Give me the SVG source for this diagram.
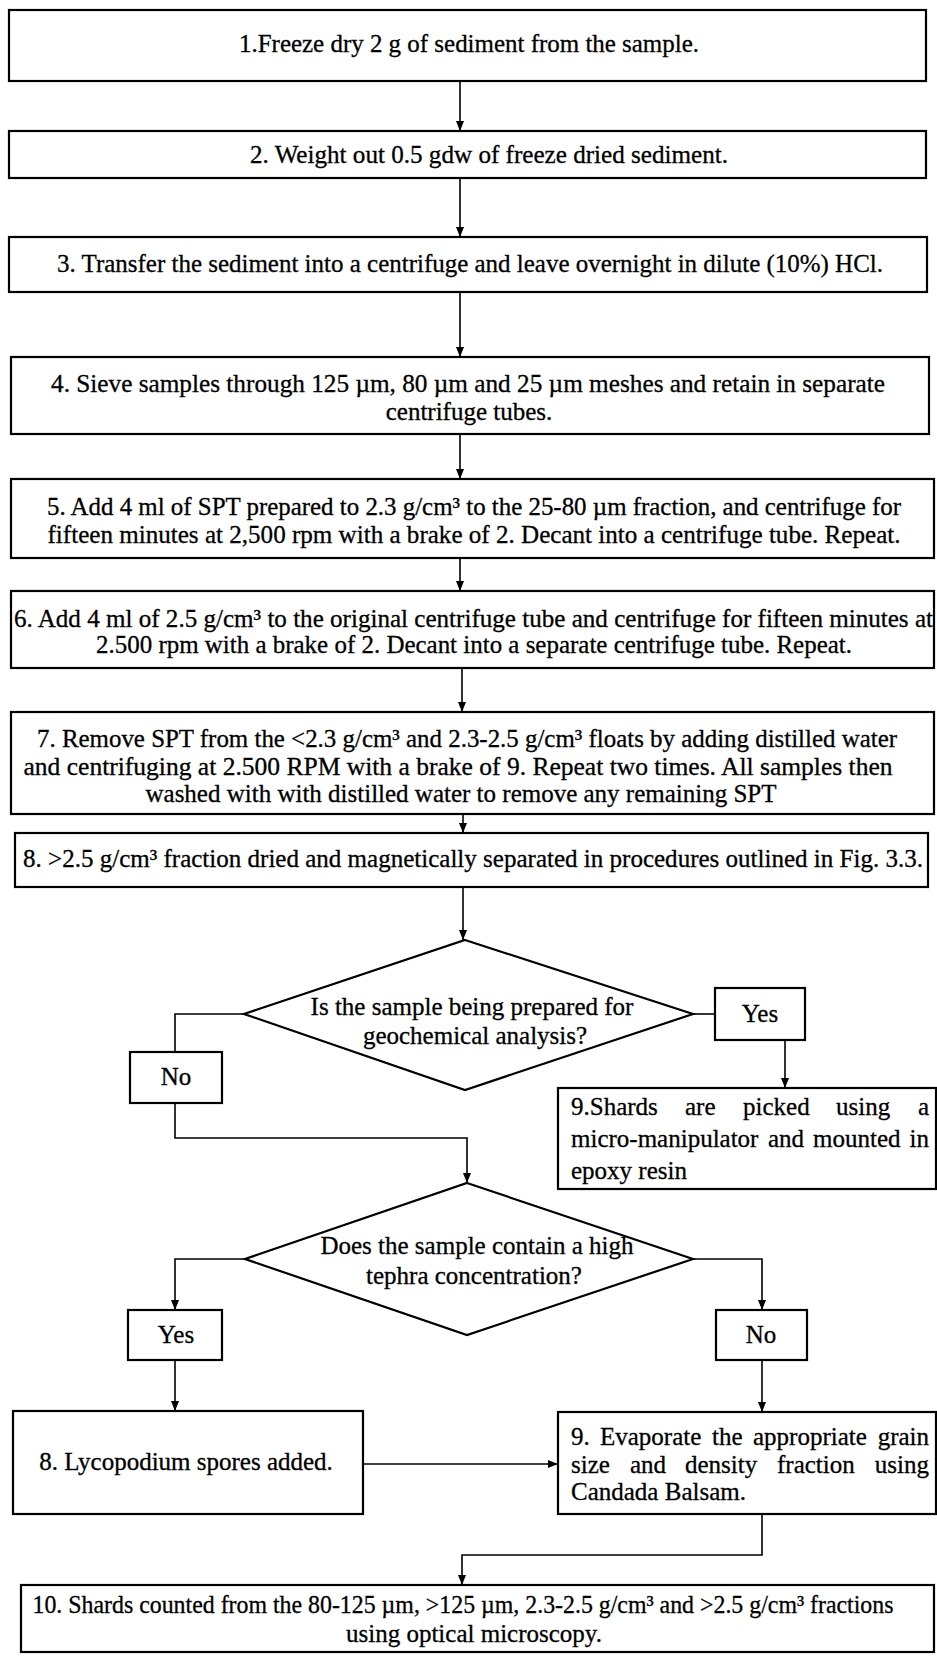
<svg xmlns="http://www.w3.org/2000/svg" width="937" height="1658" viewBox="0 0 937 1658">
<style>
.bg{fill:#fff}
.box{fill:#fff;stroke:#000;stroke-width:2.2}
.t{font-family:"Liberation Serif","Times New Roman",serif;font-size:25px;fill:#000;stroke:#000;stroke-width:0.3}
.c{text-anchor:middle}
.ln{fill:none;stroke:#000;stroke-width:1.6}
</style>
<defs>
<marker id="ah" markerUnits="userSpaceOnUse" markerWidth="10" markerHeight="8" refX="10" refY="4" orient="auto">
<path d="M0,0 L10,4 L0,8 z" fill="#000"/>
</marker>
</defs>
<rect class="bg" x="0" y="0" width="937" height="1658"/>

<g id="connectors">
<path class="ln" d="M460,81 V131" marker-end="url(#ah)"/>
<path class="ln" d="M460,178 V237" marker-end="url(#ah)"/>
<path class="ln" d="M460,292 V357" marker-end="url(#ah)"/>
<path class="ln" d="M460,434 V479" marker-end="url(#ah)"/>
<path class="ln" d="M460,558 V591" marker-end="url(#ah)"/>
<path class="ln" d="M462,668 V712" marker-end="url(#ah)"/>
<path class="ln" d="M463,814 V833" marker-end="url(#ah)"/>
<path class="ln" d="M463,887 V940" marker-end="url(#ah)"/>
<path class="ln" d="M244,1014 H175 V1052"/>
<path class="ln" d="M693,1014 H715"/>
<path class="ln" d="M785,1040 V1088" marker-end="url(#ah)"/>
<path class="ln" d="M175,1103 V1138 H467 V1183" marker-end="url(#ah)"/>
<path class="ln" d="M245,1259 H175 V1310" marker-end="url(#ah)"/>
<path class="ln" d="M691,1259 H762 V1310" marker-end="url(#ah)"/>
<path class="ln" d="M175,1360 V1411" marker-end="url(#ah)"/>
<path class="ln" d="M762,1360 V1412" marker-end="url(#ah)"/>
<path class="ln" d="M363,1464 H558" marker-end="url(#ah)"/>
<path class="ln" d="M762,1514 V1555 H462 V1585" marker-end="url(#ah)"/>
</g>

<g id="step1">
<rect class="box" x="9" y="10" width="917" height="71"/>
<text class="t c" x="469" y="52" textLength="460" lengthAdjust="spacingAndGlyphs">1.Freeze dry 2 g of sediment from the sample.</text>
</g>
<g id="step2">
<rect class="box" x="9" y="131" width="917" height="47"/>
<text class="t c" x="489" y="163" textLength="478" lengthAdjust="spacingAndGlyphs">2. Weight out 0.5 gdw of freeze dried sediment.</text>
</g>
<g id="step3">
<rect class="box" x="9" y="237" width="918" height="55"/>
<text class="t c" x="470" y="272" textLength="826" lengthAdjust="spacingAndGlyphs">3. Transfer the sediment into a centrifuge and leave overnight in dilute (10%) HCl.</text>
</g>
<g id="step4">
<rect class="box" x="11" y="357" width="918" height="77"/>
<text class="t c" x="468" y="392" textLength="834" lengthAdjust="spacingAndGlyphs">4. Sieve samples through 125 µm, 80 µm and 25 µm meshes and retain in separate</text>
<text class="t c" x="469" y="420">centrifuge tubes.</text>
</g>
<g id="step5">
<rect class="box" x="11" y="479" width="923" height="79"/>
<text class="t c" x="474" y="515" textLength="854" lengthAdjust="spacingAndGlyphs">5. Add 4 ml of SPT prepared to 2.3 g/cm³ to the 25-80 µm fraction, and centrifuge for</text>
<text class="t c" x="474" y="543" textLength="853" lengthAdjust="spacingAndGlyphs">fifteen minutes at 2,500 rpm with a brake of 2. Decant into a centrifuge tube. Repeat.</text>
</g>
<g id="step6">
<rect class="box" x="11" y="591" width="923" height="77"/>
<text class="t" x="14" y="627" textLength="919" lengthAdjust="spacingAndGlyphs">6. Add 4 ml of 2.5 g/cm³ to the original centrifuge tube and centrifuge for fifteen minutes at</text>
<text class="t c" x="474" y="653" textLength="756" lengthAdjust="spacingAndGlyphs">2.500 rpm with a brake of 2. Decant into a separate centrifuge tube. Repeat.</text>
</g>
<g id="step7">
<rect class="box" x="11" y="712" width="923" height="102"/>
<text class="t c" x="467" y="747" textLength="860" lengthAdjust="spacingAndGlyphs">7. Remove SPT from the &lt;2.3 g/cm³ and 2.3-2.5 g/cm³ floats by adding distilled water</text>
<text class="t c" x="458" y="775" textLength="869" lengthAdjust="spacingAndGlyphs">and centrifuging at 2.500 RPM with a brake of 9. Repeat two times. All samples then</text>
<text class="t c" x="461" y="802" textLength="631" lengthAdjust="spacingAndGlyphs">washed with with distilled water to remove any remaining SPT</text>
</g>
<g id="step8">
<rect class="box" x="15" y="833" width="913" height="54"/>
<text class="t c" x="473" y="867" textLength="900" lengthAdjust="spacingAndGlyphs">8. &gt;2.5 g/cm³ fraction dried and magnetically separated in procedures outlined in Fig. 3.3.</text>
</g>
<g id="decision1">
<polygon class="box" points="465,940 693,1014 465,1090 244,1014"/>
<text class="t c" x="472" y="1015">Is the sample being prepared for</text>
<text class="t c" x="475" y="1044">geochemical analysis?</text>
</g>
<g id="yes1">
<rect class="box" x="715" y="988" width="90" height="52"/>
<text class="t c" x="760" y="1022">Yes</text>
</g>
<g id="no1">
<rect class="box" x="130" y="1052" width="92" height="51"/>
<text class="t c" x="176" y="1085">No</text>
</g>
<g id="step9-shards">
<rect class="box" x="558" y="1088" width="378" height="101"/>
<text class="t" y="1115"><tspan x="571">9.Shards</tspan><tspan x="685">are</tspan><tspan x="743">picked</tspan><tspan x="836">using</tspan><tspan x="929" text-anchor="end">a</tspan></text>
<text class="t" y="1147"><tspan x="571">micro-manipulator</tspan><tspan x="768">and</tspan><tspan x="813">mounted</tspan><tspan x="929" text-anchor="end">in</tspan></text>
<text class="t" x="571" y="1179">epoxy resin</text>
</g>
<g id="decision2">
<polygon class="box" points="467,1183 693,1259 467,1335 245,1259"/>
<text class="t c" x="477" y="1254">Does the sample contain a high</text>
<text class="t c" x="474" y="1284">tephra concentration?</text>
</g>
<g id="yes2">
<rect class="box" x="128" y="1310" width="94" height="50"/>
<text class="t c" x="176" y="1343">Yes</text>
</g>
<g id="no2">
<rect class="box" x="716" y="1310" width="91" height="50"/>
<text class="t c" x="761" y="1343">No</text>
</g>
<g id="step8-lycopodium">
<rect class="box" x="13" y="1411" width="350" height="103"/>
<text class="t c" x="186" y="1470">8. Lycopodium spores added.</text>
</g>
<g id="step9-evaporate">
<rect class="box" x="558" y="1412" width="378" height="102"/>
<text class="t" y="1445"><tspan x="571">9.</tspan><tspan x="600">Evaporate</tspan><tspan x="712">the</tspan><tspan x="753">appropriate</tspan><tspan x="929" text-anchor="end">grain</tspan></text>
<text class="t" y="1473"><tspan x="571">size</tspan><tspan x="630">and</tspan><tspan x="685">density</tspan><tspan x="777">fraction</tspan><tspan x="929" text-anchor="end">using</tspan></text>
<text class="t" x="571" y="1500">Candada Balsam.</text>
</g>
<g id="step10">
<rect class="box" x="21" y="1585" width="913" height="67"/>
<text class="t c" x="463" y="1613" textLength="861" lengthAdjust="spacingAndGlyphs">10. Shards counted from the 80-125 µm, &gt;125 µm, 2.3-2.5 g/cm³ and &gt;2.5 g/cm³ fractions</text>
<text class="t c" x="474" y="1642">using optical microscopy.</text>
</g>
</svg>
